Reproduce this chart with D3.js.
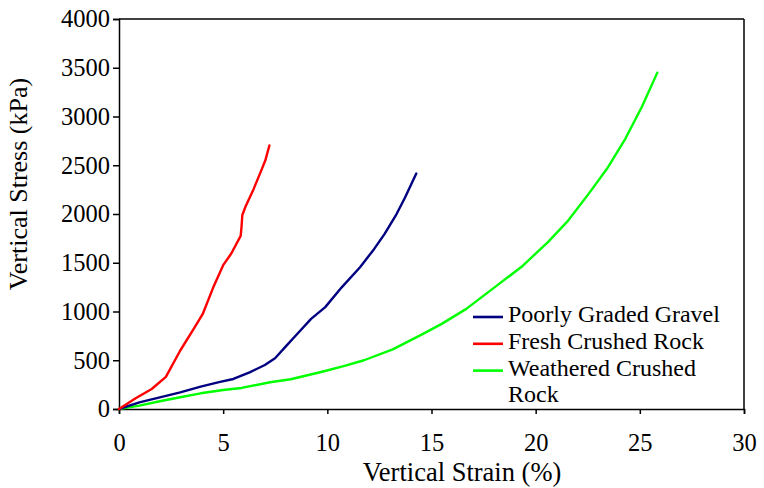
<!DOCTYPE html>
<html>
<head>
<meta charset="utf-8">
<script src="https://cdn.jsdelivr.net/npm/d3@7"></script>
<style>
  html, body { margin: 0; padding: 0; background: #fff; }
  svg text { font-family: "Liberation Serif", "DejaVu Serif", "Times New Roman", Times, serif; fill: #000; }
</style>
</head>
<body>
<svg id="chart" width="764" height="488"></svg>
<script>
// ---- data ----
const seriesNames = ["Poorly Graded Gravel", "Fresh Crushed Rock", "Weathered Crushed Rock"];
const seriesColors = ["#000080", "#ff0000", "#00ff00"];

const gravelStrain = [0, 0.98, 1.96, 2.94, 3.92, 4.8, 5.49, 6.27, 7.0, 7.49, 8.04, 8.63, 9.22, 9.9, 10.69, 11.57, 12.25, 12.75, 13.33, 13.73, 14.27];
const gravelStress = [0, 68, 120, 171, 229, 276, 308, 376, 451, 520, 650, 787, 924, 1045, 1248, 1454, 1642, 1796, 2002, 2170, 2415];

const freshStrain = [0, 0.8, 1.57, 2.25, 2.94, 3.63, 4.02, 4.51, 5.0, 5.39, 5.84, 5.88, 5.92, 6.08, 6.47, 6.86, 7.02, 7.22];
const freshStress = [0, 110, 205, 330, 600, 838, 975, 1240, 1475, 1595, 1775, 1864, 1990, 2080, 2260, 2463, 2548, 2703];

const weatheredStrain = [0, 0.98, 1.96, 2.94, 3.92, 5.0, 5.88, 7.25, 8.24, 9.8, 10.78, 11.76, 13.14, 14.5, 15.49, 16.67, 18.04, 19.31, 20.59, 21.57, 22.55, 23.43, 24.31, 25.1, 25.84];
const weatheredStress = [0, 34, 79, 120, 161, 195, 216, 274, 305, 385, 440, 500, 612, 760, 873, 1027, 1250, 1456, 1712, 1935, 2209, 2466, 2774, 3100, 3450];

const xTicks = [0, 5, 10, 15, 20, 25, 30];
const yTicks = [0, 500, 1000, 1500, 2000, 2500, 3000, 3500, 4000];

// ---- layout ----
const FONT = "'Liberation Serif', 'DejaVu Serif', 'Times New Roman', Times, serif";
const svg = d3.select("#chart");
const W = 764, H = 488;
const m = { left: 119, top: 19, right: 20, bottom: 79 };
const x = d3.scaleLinear().domain([0, 30]).range([m.left, W - m.right]);
const y = d3.scaleLinear().domain([0, 4000]).range([H - m.bottom, m.top]);

// frame (top and right)
svg.append("line").attr("x1", x(0)).attr("x2", x(30)).attr("y1", y(4000)).attr("y2", y(4000))
  .attr("stroke", "#000").attr("stroke-width", 1.5);
svg.append("line").attr("x1", x(30)).attr("x2", x(30)).attr("y1", y(0)).attr("y2", y(4000))
  .attr("stroke", "#000").attr("stroke-width", 1.5);

// axes
const xAxis = svg.append("g").attr("transform", `translate(0,${y(0)})`)
  .call(d3.axisBottom(x).tickValues(xTicks).tickSize(5).tickPadding(20).tickFormat(d3.format("d")));
const yAxis = svg.append("g").attr("transform", `translate(${x(0)},0)`)
  .call(d3.axisLeft(y).tickValues(yTicks).tickSize(6).tickPadding(3).tickFormat(d3.format("d")));
[xAxis, yAxis].forEach(g => {
  g.attr("font-family", FONT).attr("font-size", 24);
  g.select(".domain").attr("stroke", "#000").attr("stroke-width", 1.5);
  g.selectAll(".tick line").attr("stroke", "#000").attr("stroke-width", 1.5);
  g.selectAll(".tick text").attr("font-family", FONT).attr("font-size", 24.5).attr("fill", "#000");
});

// series
const series = [
  { name: seriesNames[0], color: seriesColors[0], xs: gravelStrain, ys: gravelStress },
  { name: seriesNames[1], color: seriesColors[1], xs: freshStrain, ys: freshStress },
  { name: seriesNames[2], color: seriesColors[2], xs: weatheredStrain, ys: weatheredStress }
];
const line = d3.line().x(d => x(d[0])).y(d => y(d[1])).curve(d3.curveLinear);
[2, 0, 1].forEach(i => {
  const s = series[i];
  svg.append("path")
    .datum(s.xs.map((v, k) => [v, s.ys[k]]))
    .attr("fill", "none").attr("stroke", s.color).attr("stroke-width", 2.4)
    .attr("stroke-linejoin", "round").attr("stroke-linecap", "round")
    .attr("d", line);
});

// axis titles
svg.append("text").attr("x", 462).attr("y", 481).attr("text-anchor", "middle")
  .attr("font-family", FONT).attr("font-size", 26.5).text("Vertical Strain (%)");
svg.append("text").attr("transform", "translate(27,184) rotate(-90)").attr("text-anchor", "middle")
  .attr("font-family", FONT).attr("font-size", 26).text("Vertical Stress (kPa)");

// legend
const lg = svg.append("g");
const rowGap = 26.8;
const legendLabels = [["Poorly Graded Gravel"], ["Fresh Crushed Rock"], ["Weathered Crushed", "Rock"]];
series.forEach((s, i) => {
  const ly = 317 + i * rowGap;
  lg.append("line").attr("x1", 473).attr("x2", 503).attr("y1", ly).attr("y2", ly)
    .attr("stroke", s.color).attr("stroke-width", 2.6);
  legendLabels[i].forEach((t, j) => {
    lg.append("text").attr("x", 508).attr("y", ly + 5 + j * rowGap)
      .attr("font-family", FONT).attr("font-size", 24).text(t);
  });
});
</script>
</body>
</html>
